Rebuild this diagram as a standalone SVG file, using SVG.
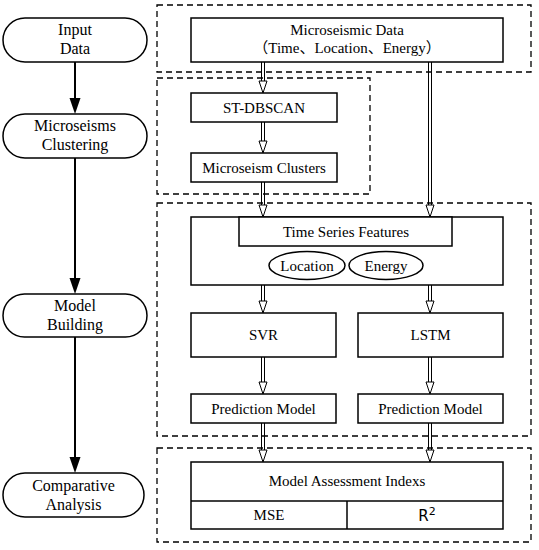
<svg xmlns="http://www.w3.org/2000/svg" width="539" height="550" viewBox="0 0 539 550">
<style>
.dash{fill:none;stroke:#000;stroke-width:1.3;stroke-dasharray:6,4}
.box{fill:#fff;stroke:#000;stroke-width:1.5}
.pill{fill:#fff;stroke:#000;stroke-width:1.5}
.t{font-family:"Liberation Serif","Noto Sans CJK SC",serif;font-size:15px;text-anchor:middle;fill:#000}
.lt{font-family:"Liberation Serif",serif;font-size:16px;text-anchor:middle;fill:#000}
.dl{stroke:#000;stroke-width:1;fill:none}
.oh{fill:#fff;stroke:#000;stroke-width:1}
.sl{stroke:#000;stroke-width:2;fill:none}
.ah{fill:#000}
</style>
<rect fill="#fff" width="539" height="550"/>
<g id="groups">
<rect class="dash" x="157" y="5" width="374" height="67"/>
<rect class="dash" x="157" y="78" width="213" height="116"/>
<rect class="dash" x="157" y="203" width="374" height="233"/>
<rect class="dash" x="157" y="448" width="374" height="94"/>
</g>
<g id="connectors">
<line class="sl" x1="75" y1="62" x2="75" y2="100"/>
<path class="ah" d="M69.5,98 L80.5,98 L75,114 Z"/>
<line class="sl" x1="75" y1="158" x2="75" y2="280"/>
<path class="ah" d="M69.5,278 L80.5,278 L75,294 Z"/>
<line class="sl" x1="75" y1="337" x2="75" y2="460"/>
<path class="ah" d="M69.5,457 L80.5,457 L75,473 Z"/>
<path class="dl" d="M261.5,62V81M264.5,62V81"/><path class="oh" d="M259,81H267L263,93Z"/>
<path class="dl" d="M261.5,122V141M264.5,122V141"/><path class="oh" d="M259,141H267L263,153Z"/>
<path class="dl" d="M261.5,182V205M264.5,182V205"/><path class="oh" d="M259,205H267L263,217Z"/>
<path class="dl" d="M428.5,62V205M431.5,62V205"/><path class="oh" d="M426,205H434L430,217Z"/>
<path class="dl" d="M261.5,285V301M264.5,285V301"/><path class="oh" d="M259,301H267L263,313Z"/>
<path class="dl" d="M428.5,285V301M431.5,285V301"/><path class="oh" d="M426,301H434L430,313Z"/>
<path class="dl" d="M261.5,357V382M264.5,357V382"/><path class="oh" d="M259,382H267L263,394Z"/>
<path class="dl" d="M428.5,357V382M431.5,357V382"/><path class="oh" d="M426,382H434L430,394Z"/>
<path class="dl" d="M261.5,423V450M264.5,423V450"/><path class="oh" d="M259,450H267L263,462Z"/>
<path class="dl" d="M428.5,423V450M431.5,423V450"/><path class="oh" d="M426,450H434L430,462Z"/>
</g>
<g id="input-data">
<rect class="pill" x="3" y="18" width="144" height="44" rx="22"/>
<text class="lt" x="75" y="35">Input</text>
<text class="lt" x="75" y="54">Data</text>
</g>
<g id="microseisms-clustering">
<rect class="pill" x="3" y="114" width="144" height="44" rx="22"/>
<text class="lt" x="75" y="131">Microseisms</text>
<text class="lt" x="75" y="150">Clustering</text>
</g>
<g id="model-building">
<rect class="pill" x="3" y="294" width="144" height="43" rx="21.5"/>
<text class="lt" x="75" y="311">Model</text>
<text class="lt" x="75" y="330">Building</text>
</g>
<g id="comparative-analysis">
<rect class="pill" x="3" y="473" width="141" height="44" rx="22"/>
<text class="lt" x="73.5" y="491">Comparative</text>
<text class="lt" x="73.5" y="510">Analysis</text>
</g>
<g id="microseismic-data">
<rect class="box" x="191" y="18" width="312" height="44"/>
<text class="t" x="347" y="35">Microseismic Data</text>
<text class="t" x="347" y="53">（Time、Location、Energy）</text>
</g>
<g id="st-dbscan">
<rect class="box" x="191" y="93" width="146" height="29"/>
<text class="t" x="264" y="113">ST-DBSCAN</text>
</g>
<g id="microseism-clusters">
<rect class="box" x="191" y="153" width="146" height="29"/>
<text class="t" x="264" y="173">Microseism Clusters</text>
</g>
<g id="time-series">
<rect class="box" x="191" y="217" width="312" height="68"/>
<rect class="box" x="239" y="217" width="213" height="29"/>
<text class="t" x="346" y="237">Time Series Features</text>
</g>
<g id="location">
<ellipse class="box" cx="307" cy="265.5" rx="38" ry="14"/>
<text class="t" x="307" y="271">Location</text>
</g>
<g id="energy">
<ellipse class="box" cx="386" cy="265.5" rx="37" ry="14"/>
<text class="t" x="386" y="271">Energy</text>
</g>
<g id="svr">
<rect class="box" x="191" y="313" width="145" height="44"/>
<text class="t" x="263.5" y="340">SVR</text>
</g>
<g id="lstm">
<rect class="box" x="358" y="313" width="145" height="44"/>
<text class="t" x="430.5" y="340">LSTM</text>
</g>
<g id="prediction-svr">
<rect class="box" x="191" y="394" width="145" height="29"/>
<text class="t" x="263.5" y="414">Prediction Model</text>
</g>
<g id="prediction-lstm">
<rect class="box" x="358" y="394" width="145" height="29"/>
<text class="t" x="430.5" y="414">Prediction Model</text>
</g>
<g id="assessment">
<rect class="box" x="191" y="462" width="312" height="67"/>
<line class="box" x1="191" y1="501" x2="503" y2="501"/>
<line class="box" x1="347" y1="501" x2="347" y2="529"/>
<text class="t" x="347" y="486">Model Assessment Indexs</text>
<text class="t" x="269" y="520">MSE</text>
<text x="427" y="521" style="font-family:'DejaVu Sans',sans-serif;font-size:15px;text-anchor:middle">R<tspan style="font-size:11px" dy="-6">2</tspan></text>
</g>
</svg>
